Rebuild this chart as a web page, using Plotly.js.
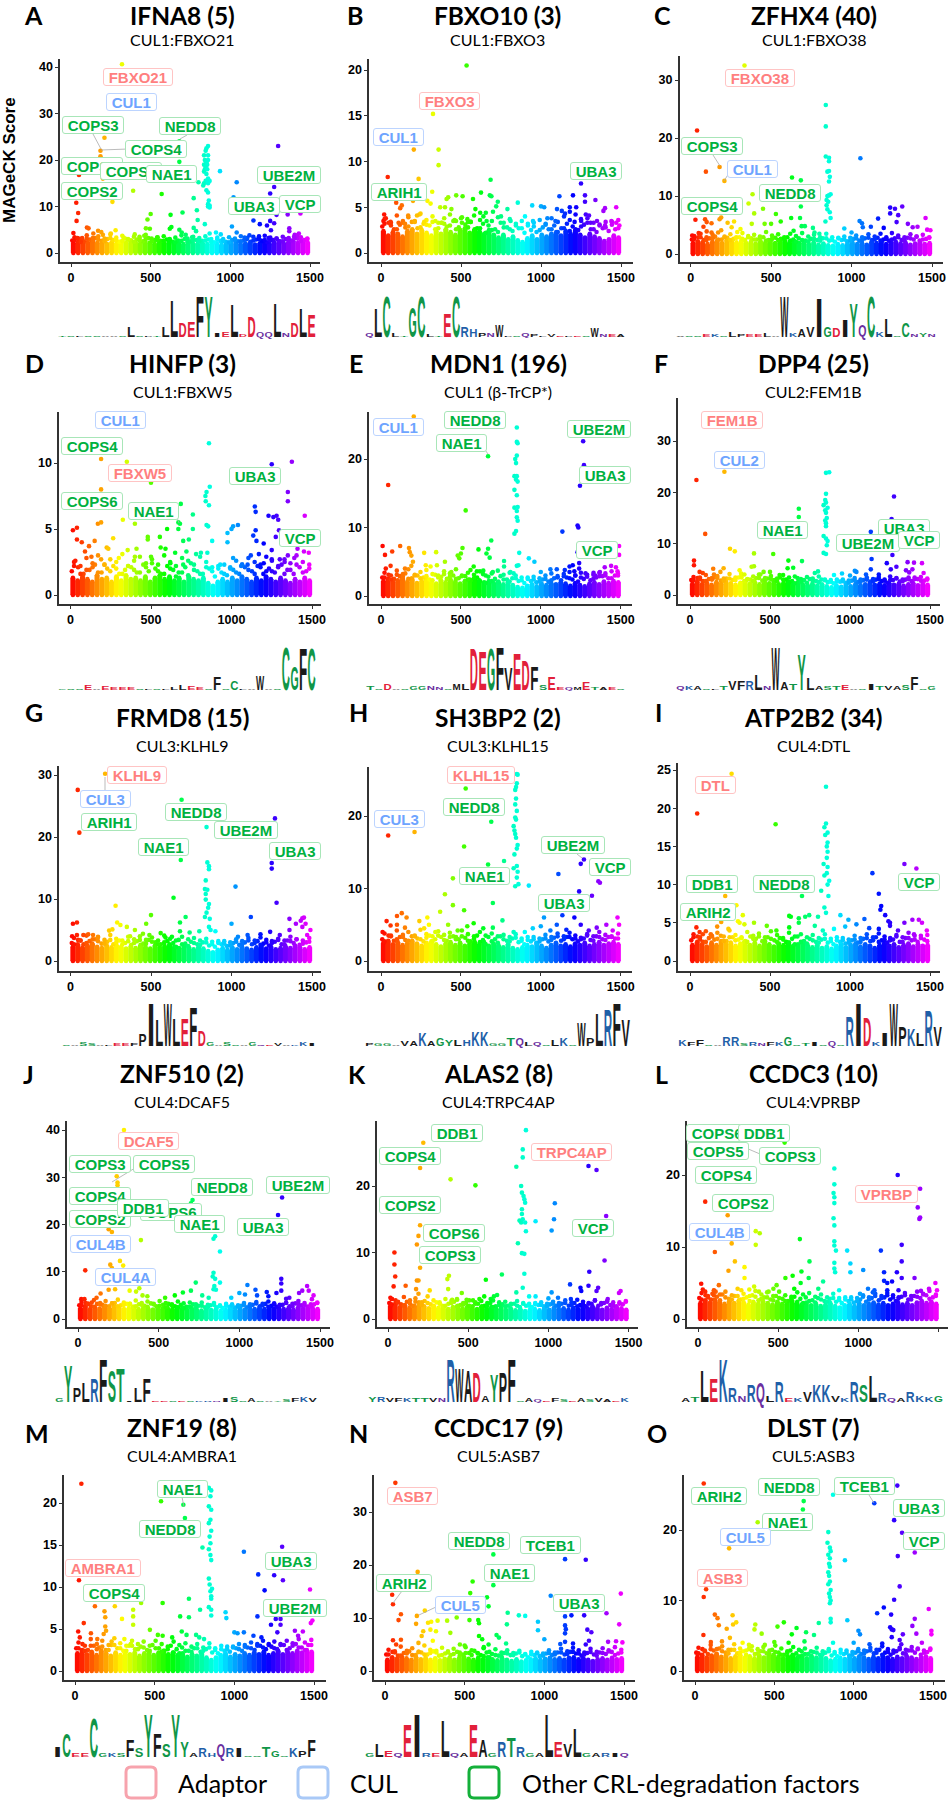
<!DOCTYPE html>
<html><head><meta charset="utf-8">
<script src="https://cdn.plot.ly/plotly-3.0.1.min.js"></script>
<style>html,body{margin:0;padding:0;background:#fff}#chart{width:948px;height:1800px}</style>
</head><body><div id="chart"></div>
<script>
const binX=[15,45,75,105,135,165,195,225,255,285,315,345,375,405,435,465,495,525,555,585,615,645,675,705,735,765,795,825,855,885,915,945,975,1005,1035,1065,1095,1125,1155,1185,1215,1245,1275,1305,1335,1365,1395,1425,1455,1485];
const cloudXa=[8,47,81,118,152,193,228,266,303,339,377,412,452,486,527,561,601,638,672,713,748,788,822,861,897,938,972,1011,1048,1083,1127,1162,1198,1233,1269,1311,1347,1386,1423,1464];
const cloudXb=[22,62,99,137,171,211,247,284,322,358,395,431,469,506,544,582,619,655,693,731,767,805,843,880,918,955,992,1029,1066,1105,1144,1180,1216,1251,1290,1329,1366,1404,1443,1483];

const bandA=[2.2,2.4,2.1,2.3,2.6,2.2,2.5,2.0,2.3,2.1,2.4,2.2,2.7,2.3,2.1,2.5,2.2,2.0,2.3,2.1,2.4,2.0,2.2,1.9,2.3,2.1,2.0,2.2,1.9,2.3,2.1,1.8,2.2,2.0,2.3,1.9,2.1,2.2,1.8,2.1,2.3,2.0,2.2,2.5,2.1,2.4,2.6,2.2,2.5,2.3];
const bandB=[2.4,1.9,2.3,2.1,1.8,2.4,2.6,2.1,2.5,2.2,1.9,2.4,2.1,2.6,2.3,2.0,2.5,2.7,2.2,2.6,2.4,2.1,2.5,2.0,1.7,2.0,1.5,1.8,1.4,1.2,1.6,1.9,1.5,2.0,1.8,2.1,2.3,1.9,2.4,2.1,2.5,2.0,1.7,2.1,1.8,1.6,1.3,1.5,1.9,1.7];
const bandC=[1.9,2.2,2.0,1.7,2.1,2.3,1.9,2.4,2.2,2.0,2.3,1.9,2.1,1.8,2.2,2.0,2.3,1.9,2.1,2.4,2.0,2.2,1.9,2.1,1.7,2.0,1.6,1.8,1.5,1.4,1.7,1.5,1.8,2.0,1.7,1.9,1.6,2.1,1.9,2.2,1.7,2.0,2.1,1.8,2.0,1.6,1.8,2.0,1.7,1.9];
const bandD=[1.3,1.1,1.4,1.2,1.0,1.5,1.2,1.3,1.0,1.4,1.1,1.5,1.2,1.3,1.1,1.4,1.0,1.3,1.5,1.2,1.4,1.1,1.3,1.0,1.4,1.2,1.1,1.3,0.9,0.7,1.0,1.2,1.0,1.3,1.1,1.4,1.2,1.0,1.3,1.1,1.4,1.2,1.0,1.3,1.1,0.9,1.2,1.0,1.3,1.1];
const bandE=[2.2,2.5,2.0,2.3,2.6,2.1,2.4,1.9,2.2,2.5,2.1,1.8,2.3,2.0,2.4,2.1,1.8,2.2,2.4,2.6,2.3,2.0,2.2,1.9,2.1,1.7,2.0,1.6,1.3,1.2,1.5,1.7,1.4,1.8,1.6,1.9,1.7,2.0,1.8,1.5,1.9,1.6,1.4,1.8,2.0,1.7,2.1,1.9,2.2,2.0];
const bandF=[2.2,2.6,2.1,2.4,2.0,2.5,2.2,2.6,2.3,2.0,2.4,2.7,2.2,2.5,2.1,2.6,2.3,2.7,2.1,2.4,2.6,2.2,2.5,2.1,1.9,2.2,1.8,2.1,1.7,1.5,1.9,1.6,2.0,1.7,2.2,1.9,2.1,2.4,2.0,2.2,1.9,2.3,2.0,2.2,1.8,2.1,2.3,1.9,2.2,2.0];
const bandG=[2.3,2.7,2.2,2.5,2.8,2.3,2.1,2.5,2.2,2.6,2.3,2.0,2.4,2.1,2.6,2.3,2.0,2.5,2.2,2.4,2.7,2.3,2.1,2.5,2.2,1.9,2.3,2.0,1.6,1.4,1.8,2.1,1.8,2.2,1.9,2.3,2.0,1.8,2.2,2.4,2.0,2.3,1.9,2.1,2.4,2.1,2.5,2.2,1.9,2.2];
const bandH=[2.5,2.8,2.3,2.6,2.2,2.5,2.8,2.4,2.1,2.5,2.7,2.3,2.0,2.4,2.6,2.2,2.5,2.1,2.4,2.7,2.3,2.6,2.1,2.4,2.2,1.9,2.3,1.8,1.6,1.9,2.2,2.0,2.4,2.1,1.8,2.2,2.5,2.1,2.3,2.0,2.4,2.2,2.5,2.1,2.3,2.6,2.2,2.4,2.6,2.3];
const bandI=[2.1,2.5,2.2,1.9,2.4,2.1,2.6,2.2,2.4,2.0,2.3,2.6,2.1,2.4,2.0,2.5,2.2,1.9,2.3,2.1,2.4,2.0,2.2,2.5,2.1,1.8,2.1,1.7,1.9,1.6,2.0,2.2,1.8,2.1,2.3,1.9,2.2,2.0,1.7,2.1,2.4,2.0,2.2,1.8,2.1,2.3,1.9,2.2,2.0,2.1];
const bandJ=[2.3,2.7,2.1,2.5,2.2,2.6,2.3,2.8,2.4,2.1,2.3,2.6,2.1,2.4,2.2,2.0,2.5,2.2,2.4,2.1,2.5,2.2,2.0,2.3,2.1,1.8,2.2,1.9,2.1,1.7,2.0,2.3,1.9,2.2,2.0,2.3,2.1,2.4,2.1,2.5,2.2,2.4,2.1,2.3,2.0,2.5,2.2,2.6,2.3,2.1];
const bandK=[2.0,2.3,1.8,2.1,1.7,2.0,2.3,1.9,1.6,2.0,1.7,1.9,1.5,1.8,2.0,1.6,1.9,1.7,1.5,1.9,1.6,1.8,1.5,1.7,1.4,1.6,1.3,1.5,1.2,1.4,1.5,1.3,1.6,1.4,1.7,1.5,1.6,1.4,1.7,1.5,1.8,1.6,1.9,1.6,1.4,1.7,1.5,1.8,1.6,1.4];
const bandL=[2.2,2.6,2.3,2.7,2.4,2.1,2.5,2.2,2.6,2.3,2.0,2.4,2.1,2.5,2.2,2.0,2.4,2.1,2.3,2.6,2.2,2.0,2.3,1.9,2.1,1.8,2.0,2.2,1.8,1.6,1.9,2.1,1.8,2.2,1.9,2.1,2.3,2.0,2.2,1.9,2.1,2.4,2.0,2.2,1.9,2.3,2.5,2.2,2.4,2.1];
const bandM=[2.1,2.5,2.0,2.3,1.9,2.4,2.1,1.8,2.2,1.9,2.3,2.0,2.2,1.8,2.1,2.3,1.9,2.2,2.4,2.0,2.2,1.9,2.1,1.7,2.0,1.8,2.1,1.6,1.3,1.6,1.9,2.1,1.7,2.0,1.8,2.1,1.9,2.2,2.0,2.3,1.9,2.1,2.4,2.0,2.3,2.1,2.4,2.2,2.5,2.3];
const bandN=[2.1,2.6,2.3,2.8,2.4,2.1,2.6,2.2,2.5,2.1,2.4,2.0,2.3,2.5,2.1,2.4,2.7,2.3,2.1,2.5,2.2,2.6,2.2,2.0,2.4,2.1,1.9,2.2,1.8,2.0,2.2,2.4,2.1,2.3,2.5,2.2,2.4,2.1,2.5,2.6,2.2,2.4,2.1,1.9,2.2,2.4,2.1,2.5,2.2,2.4];
const bandO=[2.0,2.3,1.9,2.2,2.4,2.0,2.2,1.8,2.1,2.3,1.9,2.1,1.8,2.2,1.9,2.1,2.3,2.0,1.8,2.1,2.3,1.9,2.2,1.8,2.1,1.9,2.2,1.8,1.5,1.7,1.9,1.7,2.0,1.8,2.1,1.9,1.7,2.0,1.8,2.1,1.9,1.7,2.0,1.8,2.1,1.9,1.7,1.9,2.1,1.8];

const nearA=[2.7,3.1,2.5,2.9,3.2,2.6,3.0,2.8,2.4,3.1,2.7,2.9,2.5,3.2,2.8,2.6,2.9,2.4,2.7,3.0,2.5,2.8,2.6,2.9,2.3,2.6,2.4,2.8,2.5,2.7,2.4,2.9,2.6,2.3,2.8,2.5,3.0,2.7,3.1,2.8];
const upperA=[3.4,3.0,3.8,3.2,3.6,3.1,4.0,3.3,3.7,3.0,3.5,3.2,3.9,3.1,3.4,3.6,3.0,3.3,3.8,3.1,3.5,3.2,3.6,3.0,3.3,3.0,3.4,3.1,3.6,3.2,3.5,3.0,3.7,3.3,3.1,3.5,3.2,3.9,3.4,3.1];
const nearB=[2.9,3.3,2.6,3.1,2.8,3.4,2.7,3.2,3.0,2.6,3.3,2.9,3.5,2.8,3.1,3.4,2.7,3.2,3.0,2.6,3.3,2.8,2.4,2.7,2.2,2.5,2.3,2.8,2.6,3.0,2.7,3.2,2.9,2.5,3.1,2.6,2.3,2.7,2.4,2.6];
const upperB=[3.7,3.3,4.1,3.5,3.9,3.4,4.3,3.6,4.0,3.3,3.8,4.2,3.5,3.9,3.4,4.1,3.6,4.4,3.5,3.9,3.3,3.7,3.2,3.5,3.0,3.3,3.6,3.2,3.8,3.4,4.0,3.6,4.2,3.5,3.8,3.3,3.0,3.4,3.1,3.6];
const nearC=[2.5,2.9,2.4,2.7,3.0,2.5,2.8,2.6,2.9,2.4,2.7,2.5,2.9,2.4,2.8,2.6,2.9,2.5,2.7,2.3,2.6,2.4,2.7,2.3,2.1,2.4,2.2,2.6,2.3,2.7,2.4,2.8,2.5,2.3,2.7,2.4,2.8,2.5,2.3,2.6];
const upperC=[3.1,3.5,2.9,3.3,3.7,3.0,3.4,2.9,3.6,3.1,3.3,3.0,3.8,3.2,3.4,2.9,3.5,3.1,3.6,3.0,3.3,2.9,3.5,2.9,2.7,3.0,2.8,3.2,2.9,3.4,3.0,3.5,2.9,3.6,3.2,2.9,3.4,3.0,3.3,2.9];
const nearD=[1.8,2.1,1.6,1.9,2.3,1.7,2.0,2.2,1.6,1.9,2.1,1.7,2.3,1.8,2.0,1.6,2.2,1.9,1.7,2.1,2.4,1.8,1.6,2.0,1.4,1.7,1.5,1.9,1.6,2.1,1.8,2.2,1.6,2.0,1.7,2.3,1.9,1.6,2.1,1.8];
const upperD=[2.5,2.2,2.8,2.4,3.0,2.3,2.7,2.5,3.1,2.2,2.6,2.9,2.4,2.7,2.3,3.0,2.5,2.2,2.8,2.6,2.3,2.9,2.5,2.1,2.0,2.3,2.1,2.6,2.3,2.8,2.5,2.3,2.9,2.6,2.2,2.7,2.4,3.0,2.5,2.3];
const nearE=[2.7,3.1,2.5,2.9,3.3,2.6,3.0,2.7,2.4,3.1,2.8,2.5,3.0,2.6,2.9,2.3,2.7,3.2,2.8,2.5,2.9,2.4,2.6,2.2,1.9,2.2,2.0,2.4,2.1,2.6,2.3,2.7,2.4,2.1,2.5,2.3,2.7,2.9,2.6,3.0];
const upperE=[3.4,3.0,3.7,3.2,3.9,3.1,3.5,3.8,3.2,3.0,3.6,3.3,3.9,3.0,3.4,3.1,3.6,3.0,3.3,3.7,3.1,3.4,3.0,2.7,2.5,2.8,2.6,3.0,3.3,2.9,3.2,3.5,3.0,3.4,2.8,3.1,3.4,3.0,3.6,3.3];
const nearF=[2.9,3.3,2.7,3.1,3.4,2.8,3.2,2.9,3.4,2.7,3.0,3.3,2.8,3.2,2.9,3.4,3.0,2.7,3.3,2.9,3.1,2.7,3.0,2.5,2.3,2.6,2.4,2.8,2.5,2.9,2.6,3.0,2.7,2.4,2.9,2.6,3.0,2.7,3.1,2.8];
const upperF=[3.5,3.1,3.9,3.3,3.7,3.2,4.1,3.4,3.8,3.1,3.6,4.0,3.3,3.7,3.2,3.9,3.4,3.6,3.1,3.5,3.2,3.6,3.0,2.9,2.7,3.0,2.8,3.3,3.0,3.4,3.1,3.5,3.0,3.6,3.2,3.0,3.4,3.1,3.5,3.0];
const nearG=[2.9,3.4,2.7,3.2,3.5,2.8,3.1,2.7,3.3,2.9,2.6,3.2,2.8,3.4,3.0,2.7,3.2,2.9,3.4,2.8,3.1,2.7,3.0,2.5,2.3,2.7,2.4,2.9,2.6,3.0,2.7,3.2,2.8,2.5,3.1,2.7,3.3,2.9,2.6,3.0];
const upperG=[3.7,3.3,4.1,3.5,3.9,3.4,4.2,3.6,3.3,3.9,3.5,4.0,3.4,3.8,3.3,4.1,3.6,3.3,3.9,3.5,3.7,3.3,3.6,3.1,2.9,3.2,3.0,3.5,3.2,3.7,3.3,3.8,3.4,3.2,3.6,3.3,3.9,3.5,3.3,3.7];
const nearH=[3.0,3.5,2.8,3.3,2.9,3.4,3.1,2.7,3.5,3.0,3.3,2.8,3.4,3.0,3.2,2.7,3.5,2.9,3.3,3.0,3.4,2.8,3.1,2.6,2.3,2.7,2.5,3.0,2.7,3.2,2.8,3.3,3.0,2.7,3.1,2.9,3.4,3.0,3.3,3.1];
const upperH=[3.8,3.4,4.2,3.6,4.0,3.5,4.3,3.7,3.4,4.1,3.6,3.9,3.3,4.2,3.7,3.4,4.0,3.5,3.8,3.4,3.6,3.3,3.7,3.1,2.9,3.3,3.1,3.6,3.3,3.8,3.4,3.9,3.5,3.2,3.7,3.4,4.0,3.6,3.3,3.8];
const nearI=[2.7,3.2,2.5,3.0,2.8,3.3,2.6,3.1,2.8,2.5,3.2,2.9,2.6,3.1,2.7,3.0,2.5,2.9,3.2,2.6,2.9,2.5,2.8,2.4,2.2,2.5,2.3,2.7,2.4,2.9,2.6,3.1,2.7,2.4,2.8,2.5,3.0,2.7,2.5,2.8];
const upperI=[3.5,3.1,3.9,3.3,3.7,3.2,4.0,3.4,3.1,3.8,3.3,3.6,3.1,3.9,3.4,3.0,3.7,3.2,3.5,3.1,3.4,3.0,3.5,2.9,2.7,3.0,2.8,3.3,3.0,3.5,3.1,3.6,3.2,3.0,3.4,3.1,3.7,3.3,3.0,3.4];
const nearJ=[2.9,3.4,2.7,3.2,3.0,2.7,3.4,2.9,3.2,2.6,3.1,2.8,3.3,2.7,3.0,3.2,2.7,3.0,2.6,3.1,2.8,2.5,2.9,2.5,2.3,2.6,2.4,2.8,2.5,3.0,2.7,3.2,2.8,2.6,3.0,2.7,3.3,2.9,2.6,3.1];
const upperJ=[3.6,3.2,4.0,3.4,3.8,3.3,4.1,3.5,3.2,3.9,3.4,3.7,3.2,3.8,3.4,3.1,3.7,3.3,3.5,3.1,3.5,3.0,3.4,2.9,2.8,3.1,2.9,3.4,3.1,3.6,3.2,3.7,3.3,3.0,3.5,3.2,3.8,3.4,3.1,3.5];
const nearK=[2.4,2.8,2.2,2.6,2.0,2.5,2.7,2.2,2.5,2.0,2.3,2.6,2.1,2.4,1.9,2.3,2.0,2.4,1.9,2.2,2.0,2.3,1.8,2.0,1.8,2.1,1.9,2.2,2.0,2.3,2.0,2.4,2.1,1.9,2.3,2.0,2.4,2.1,1.9,2.2];
const upperK=[3.0,2.6,3.3,2.8,3.1,2.5,3.4,2.8,2.5,3.0,2.7,2.9,2.4,2.8,2.5,2.7,2.4,2.8,2.5,2.6,2.3,2.7,2.4,2.3,2.2,2.5,2.3,2.6,2.4,2.8,2.5,2.9,2.6,2.3,2.8,2.4,2.7,2.5,2.3,2.6];
const nearL=[2.9,3.3,2.7,3.1,3.4,2.8,3.2,2.7,3.0,3.3,2.6,3.0,2.7,3.2,2.8,2.5,3.1,2.8,3.0,2.6,2.9,2.5,2.8,2.4,2.2,2.5,2.3,2.7,2.4,2.9,2.6,3.0,2.7,2.5,3.1,2.7,3.2,2.9,3.3,3.0];
const upperL=[3.6,3.2,4.0,3.4,3.8,3.3,4.2,3.5,3.2,3.9,3.4,3.7,3.2,3.8,3.3,3.1,3.7,3.4,3.6,3.1,3.4,3.0,3.5,2.9,2.7,3.0,2.9,3.3,3.0,3.5,3.2,3.6,3.3,3.0,3.6,3.2,3.8,3.5,3.9,3.4];
const nearM=[2.7,3.2,2.5,3.0,2.8,2.5,3.1,2.7,2.4,3.0,2.6,2.9,2.5,3.1,2.7,2.4,3.0,2.6,2.8,2.4,2.7,2.3,2.6,2.2,2.1,2.4,2.3,2.7,2.4,2.8,2.5,3.0,2.6,2.9,2.6,3.1,2.7,3.2,2.8,3.1];
const upperM=[3.4,3.0,3.8,3.2,3.6,3.1,3.9,3.3,3.0,3.6,3.2,3.5,3.0,3.6,3.2,2.9,3.5,3.1,3.3,2.9,3.2,2.8,3.3,2.7,2.6,2.9,2.8,3.2,2.9,3.4,3.0,3.6,3.2,3.5,3.1,3.6,3.3,3.8,3.4,3.7];
const nearN=[3.1,3.6,2.9,3.4,3.7,3.0,3.5,3.1,3.7,2.9,3.3,3.0,3.6,3.1,3.4,3.8,3.0,3.5,3.2,2.9,3.4,3.0,3.3,2.8,2.6,3.0,2.8,3.3,3.0,3.5,3.1,3.6,3.3,2.9,3.4,3.1,3.5,3.2,3.6,3.3];
const upperN=[4.0,3.5,4.6,3.8,4.3,3.6,4.8,4.0,3.5,4.4,3.7,4.2,3.5,4.5,3.9,3.4,4.3,3.6,4.1,3.5,3.9,3.4,3.8,3.2,3.1,3.5,3.3,3.9,3.5,4.2,3.7,4.4,3.9,3.5,4.2,3.6,4.3,3.9,4.5,4.0];
const nearO=[2.6,3.1,2.4,2.9,3.2,2.6,3.0,2.5,2.8,3.1,2.4,2.8,2.5,3.0,2.6,2.3,2.9,2.5,2.8,2.4,2.7,2.3,2.6,2.2,2.1,2.4,2.2,2.6,2.4,2.8,2.5,3.0,2.6,2.3,2.8,2.5,2.9,2.6,2.3,2.7];
const upperO=[3.3,2.9,3.7,3.1,3.5,3.0,3.8,3.2,2.9,3.5,3.1,3.4,2.9,3.6,3.2,2.8,3.4,3.0,3.2,2.8,3.3,2.8,3.1,2.7,2.6,2.9,2.7,3.1,2.9,3.3,3.0,3.5,3.1,2.9,3.3,3.0,3.4,3.1,2.9,3.2];

const ptsA=[[320,40.6],[210,24.8],[185,22],[185,20.8],[185,19.5],[680,19.6],[680,24],[569,12.7],[390,13.4],[260,11],[33,10.8],[45,8.6],[35,6.9],[500,8.4],[480,7.2],[625,8.2],[700,8.7],[770,11.8],[790,9.2],[795,7.1],[840,6.2],[770,5.4],[785,4.7],[630,5.6],[620,5.2],[680,5],[695,4.4],[470,5.3],[495,5.2],[460,3.7],[200,3.9],[100,5.5],[110,5.3],[170,4.8],[190,4.5],[140,4.2],[280,4.9],[250,4.2],[15,4.3],[40,3.2],[70,3.2],[200,16],[50,16.8],[860,23],[850,22.5],[845,22],[835,21],[860,21],[860,20],[840,20],[850,19.5],[835,19],[855,19],[845,18.5],[840,18],[855,18],[835,17.5],[850,17],[860,16],[845,15.5],[870,15.5],[855,15.5],[835,15],[860,15],[830,14.5],[850,13.5],[860,13],[865,11.3],[860,10],[870,10.2],[860,10.5],[870,9.8],[800,15.2],[935,17.6],[1040,15.2],[1020,12],[1010,5.7],[1040,4.4],[1300,23],[1275,14.2],[1250,12.8],[1270,11],[1290,8.2],[1145,7],[1185,6.2],[1230,5.9],[1250,6.9],[1275,6.4],[1255,4.9],[1360,8.3],[1440,8.5],[1370,5.3],[1370,4.7],[1240,3.2],[1430,4.2],[1420,3.8],[1400,3.5],[1090,3.3],[1120,3.8],[870,4.2],[910,4.4],[940,4],[1180,3.6],[330,3.3],[400,4],[430,3.5],[540,3.3],[720,3.9],[760,3.4]];
const ptsB=[[535,20.5],[325,15.2],[360,11.3],[205,11.3],[360,9.6],[42,8.3],[235,8.1],[685,8],[320,6.7],[1250,7.6],[1115,6.2],[1200,6.3],[1275,6.3],[1275,5.6],[1340,5.8],[1470,5],[1400,4.9],[1390,4.6],[945,5.2],[1000,5.1],[1020,5],[1100,4.8],[1130,4.6],[1180,5],[1220,5],[1280,4.2],[1300,4.1],[1350,3.5],[855,5.5],[790,4.8],[730,5.6],[720,5.1],[690,6.2],[680,6.3],[625,6.6],[575,5.9],[510,6.2],[470,6.3],[420,6.1],[410,5.9],[400,5],[440,4.8],[370,5],[310,5.4],[95,5.5],[130,5.2],[120,4.9],[170,4.1],[240,4.2],[225,4.1],[20,4.2],[200,5.7],[290,5.7],[500,3.8],[590,4.8],[620,4.4],[640,4],[700,4.5],[750,4],[810,3.5],[900,4],[950,3.5],[1040,3.8],[1150,4.3],[1250,3.7],[1440,3.5],[1470,3.3],[1180,4.5],[15,3.5],[30,3.8],[60,3.4],[110,3.3],[150,3.2],[270,3.4],[340,3.5],[380,3.3],[460,3.6],[540,3.7],[560,3.4],[660,3.5],[1090,3.5],[1210,3.4],[1310,3.3],[1400,3],[1490,3]];
const ptsC=[[335,32.5],[840,25.7],[840,22],[40,21.3],[840,16.8],[860,16.6],[860,16],[1055,16.5],[180,15],[95,14.2],[210,12.6],[630,13.2],[685,12.7],[850,14.2],[860,14.3],[865,13.3],[860,12.5],[385,10.3],[360,8.7],[395,7],[450,7.8],[530,6.9],[685,8.2],[850,10],[870,10.3],[860,10.1],[845,9.3],[855,9],[845,8.4],[850,7.7],[865,7.2],[870,6.2],[838,5.6],[30,5.9],[90,6],[100,5.5],[190,6.3],[180,6],[230,5.4],[270,5.6],[130,5.3],[80,4.7],[50,3.6],[100,3.9],[130,3.7],[190,4.1],[255,4.6],[310,4.3],[290,3.8],[380,5.2],[460,5.2],[500,5.2],[560,5.6],[625,6.2],[640,4],[680,6.2],[690,4.8],[710,4.8],[760,4.5],[770,3.7],[800,3.5],[955,4.4],[1000,3.7],[1050,5.7],[1065,5.3],[1070,4.6],[1120,4.7],[1165,6.1],[1200,4.5],[1240,8],[1270,7.8],[1315,8.2],[1240,7],[1290,6.7],[1280,5.5],[1350,5.2],[1380,4.6],[1410,4.7],[1460,6.2],[1470,4.2],[1490,4.1],[10,3.2]];
const ptsD=[[190,10.3],[350,10.1],[1250,9.9],[1375,10.1],[860,11.5],[190,8],[500,8.5],[865,8.2],[845,7.8],[838,7.5],[840,7.1],[860,6.8],[1350,7.8],[1350,7.1],[685,6.9],[170,5.4],[190,5.5],[325,5.7],[400,5.4],[1145,6.7],[1150,6.3],[1230,6],[1280,6],[1260,5.9],[1290,5.7],[1455,6],[760,6.1],[670,5.5],[680,5.4],[40,5.1],[15,4.9],[600,5],[670,5],[760,5],[1295,4.9],[845,5.3],[855,5.2],[1040,5.3],[1010,5.2],[1000,5],[975,4.7],[1150,4.9],[1135,4.5],[1155,4.1],[480,4.4],[480,4.2],[555,4.4],[265,4.3],[735,4.2],[700,4.1],[880,4.1],[975,4],[1275,4.4],[1200,3.9],[150,4.1],[40,4.2],[70,4],[115,3.7],[90,3.3],[225,3.6],[235,3.5],[355,3.4],[410,3.5],[560,3.6],[590,3.5],[650,3.2],[720,3.3],[780,3.1],[810,3.2],[850,3.2],[1010,2.8],[1120,3],[1170,3.1],[1250,3.4],[1300,2.7],[1350,3],[1410,3.5],[1450,3.3],[1480,3.2],[30,2.6],[130,2.9],[190,2.7],[300,2.8],[400,2.9],[500,2.9],[620,2.4],[700,2.3],[930,2.3],[1060,2.2],[1100,2.3],[1200,2.4],[1250,2.7],[1330,2.5],[1390,2.8]];
const ptsE=[[205,26.2],[1265,22.6],[850,24.6],[45,16.2],[670,20.4],[1270,19.1],[1245,16.1],[850,22.5],[855,22.3],[850,20.5],[840,20],[845,19.4],[835,17.5],[850,17.5],[845,17],[855,16.7],[835,15.5],[850,14.7],[835,12.9],[855,13],[850,12.4],[850,11.5],[855,11],[845,9.5],[835,9.1],[530,12.5],[1135,9.4],[1230,10.3],[1235,10],[1230,6.4],[10,7.3],[70,6.5],[175,7],[120,7.3],[25,6],[180,6.4],[190,5.9],[270,6.3],[345,6.4],[510,7],[500,6.2],[480,5.9],[490,5.5],[610,6.8],[670,6.9],[690,8.1],[660,6.2],[680,5.6],[770,5.1],[770,4.3],[865,6.3],[925,5.5],[960,5],[860,4.5],[850,4.4],[1200,4.5],[1180,4.3],[1240,4.8],[1490,6],[1490,7.3],[1240,4],[1210,3.6],[1150,3.8],[1100,3.9],[1060,3.9],[1400,4.2],[1440,4.4],[1470,4.2],[1480,3.6],[1330,3.4],[1340,3],[1370,3.5],[400,5],[350,4.5],[310,4.3],[280,4.5],[200,5],[150,4],[60,4.4],[30,4],[190,4.4],[560,3.8],[580,4.3],[600,3.6],[700,3.5],[810,3.5],[830,3.3],[640,3.7],[440,3.5],[1000,3.5],[1280,3.3]];
const ptsF=[[40,22.4],[215,24],[850,23.8],[870,23.9],[95,11.9],[1275,19.2],[850,19.7],[845,18.5],[850,18],[835,17.5],[860,17],[845,16.5],[850,16],[855,15],[845,14.5],[850,14],[850,13.4],[835,11.5],[850,11],[860,10.5],[855,9.7],[835,8.2],[850,8],[680,16.8],[680,15.2],[1260,14.8],[1130,12.3],[1265,7.8],[1135,7],[1130,5],[1230,6.2],[1255,5],[1290,5.5],[1360,6.4],[1400,6.3],[1450,6.2],[1390,5],[1350,4.8],[1370,4.4],[1460,4.3],[25,6.7],[25,5.8],[80,4.3],[60,4.5],[145,5.1],[210,5.2],[250,9],[280,8.5],[400,8.1],[520,8],[615,6.7],[700,6.6],[400,5.6],[385,5.5],[310,4.8],[320,4.2],[610,5.2],[645,5.3],[500,4.5],[460,4.5],[780,4.3],[800,4.6],[950,4.2],[1030,4.7],[1040,4.5],[1100,4],[1180,4],[900,3.9],[150,4],[190,4.5],[340,4],[440,4],[560,3.9],[1000,3.8]];
const ptsG=[[215,30.2],[45,27.6],[55,20.7],[690,26],[845,21.6],[1270,23],[685,16.3],[1250,15.8],[1250,14.9],[850,15.9],[860,15.3],[860,14.8],[840,13],[835,11.6],[850,11.5],[840,10.8],[840,9.9],[860,9.2],[855,8.6],[845,7.8],[835,7.1],[865,6.8],[1025,12],[280,8.9],[640,10.2],[1280,9.4],[1120,7.1],[500,7.4],[715,7.1],[1360,6.8],[1440,6.9],[1450,7],[1430,6.5],[1460,6],[15,6],[40,6.2],[10,4],[40,4.2],[80,4.2],[110,4.3],[140,4.2],[170,3.8],[240,4.9],[260,5.1],[290,6.2],[310,5.8],[350,5.5],[370,4],[400,5],[470,6],[450,4.4],[490,4.2],[560,4.5],[590,3.8],[680,6.2],[680,4.8],[630,3.9],[740,4.6],[800,4.8],[860,5.5],[870,5],[900,4.8],[1000,6],[1040,3.9],[1100,4.2],[1180,4.3],[1240,4.7],[1300,4.2],[1360,5],[1400,6],[1440,5.5],[1470,4.2],[1490,5]];
const ptsH=[[850,25.8],[855,25.7],[530,23.8],[850,24.5],[845,24],[840,23.6],[845,22.4],[840,21.6],[850,20.7],[840,19.8],[845,19.5],[690,19.2],[830,18.6],[835,18],[840,17.5],[845,17],[855,16],[850,15.5],[835,14.7],[520,15.8],[45,17.3],[210,17.8],[670,13.3],[770,13.8],[850,13.1],[830,12.8],[855,12.3],[850,11.5],[450,11.4],[840,10.3],[860,10.6],[925,10.4],[1110,12],[1250,13.4],[1270,14],[1360,11],[1370,10.8],[1240,9.6],[1320,9],[400,9.2],[450,7.7],[700,8],[370,6.8],[520,7],[130,6.6],[100,6.2],[160,6],[290,6],[1020,6],[1135,6.3],[1210,6],[1480,6],[35,5.5],[10,4],[60,4.9],[100,5],[150,4.6],[240,5.5],[270,4.5],[300,5],[340,4],[420,5],[480,4.2],[540,4.8],[580,5.2],[640,4.5],[700,4.6],[760,5.6],[830,4],[900,4],[950,4.5],[1000,4.8],[1060,4.2],[1100,5],[1160,4.3],[1250,5],[1300,4.2],[1350,4.6],[1410,5],[1450,4.2],[1490,5]];
const ptsI=[[260,24.5],[850,22.8],[45,19.3],[535,17.9],[850,18],[840,17.5],[860,16.8],[845,16.5],[860,15.5],[855,15],[860,14.3],[855,13.5],[835,12.7],[860,12.3],[855,11.5],[840,11.2],[870,10.5],[860,10],[820,9.2],[865,8.5],[1340,12.7],[1415,12.1],[1140,11.5],[1180,8.8],[1195,7.2],[1190,6.7],[1220,6],[1240,5.2],[1250,5],[220,8.5],[700,8.5],[290,7.3],[330,6],[300,5.2],[620,5.9],[630,5.8],[680,5.6],[720,5.8],[745,6],[800,5.8],[840,7],[850,6.3],[940,6],[990,5.4],[1090,5.5],[1430,5.4],[1390,5.4],[1450,5],[40,4.4],[60,3.8],[80,3.5],[130,3.5],[170,4.5],[195,5.1],[240,4.2],[310,5],[340,4.8],[400,5],[480,4.6],[540,4],[620,4.4],[680,5],[780,4.6],[830,4],[900,4.2],[970,4.5],[1040,4.8],[1120,4.3],[1180,4.2],[1250,4.6],[1300,4],[1340,5],[1400,3.5],[1480,4]];
const ptsJ=[[285,40],[240,30.2],[245,28.9],[245,28.3],[710,25.2],[700,24.5],[1265,25.7],[1240,22],[190,19],[210,18.4],[390,16.7],[840,17],[850,17.5],[880,14.3],[260,12.3],[200,11.5],[280,11.3],[210,10.8],[45,10.3],[840,9.8],[835,9],[850,8.5],[880,7.7],[845,7],[730,7.7],[840,6.3],[855,6.2],[1260,8.5],[1260,7.5],[1050,7.2],[1000,5.5],[1035,5.2],[1100,6.2],[1170,5.7],[1230,5.5],[1260,6],[1310,4.5],[1390,6],[1420,7],[1430,6],[1370,5.5],[1460,5],[380,6.5],[360,5.8],[320,6],[190,6.2],[230,6.3],[140,5.4],[115,4.5],[20,4.2],[40,4.2],[85,3.5],[400,5],[430,4.8],[540,4.5],[600,5],[650,5.6],[700,6],[770,5],[810,4.5],[950,4.5],[1110,5],[1180,4.8],[1290,4.3],[1450,4.2]];
const ptsK=[[860,28.4],[840,25.5],[220,26.5],[840,24.3],[1250,23],[800,22.9],[1300,22.4],[200,22.7],[390,21],[545,20.1],[830,20],[835,19],[845,18.5],[850,18],[855,17.5],[1040,17.4],[835,16.5],[1360,15.5],[835,15.8],[830,14.5],[820,14.8],[840,15],[855,14.5],[920,14.7],[1035,15],[1020,13.3],[860,13.2],[200,14.1],[190,12.5],[40,10],[40,8.2],[45,6.4],[35,4.9],[110,5],[15,3.2],[25,3],[180,11.2],[200,7.7],[190,5.8],[180,5.8],[175,4.5],[190,3.8],[380,6.5],[370,6],[375,4.5],[260,4.3],[460,3.9],[610,5.9],[710,6.7],[800,4],[840,4.7],[810,11.4],[835,9.9],[850,9.8],[850,6.8],[1020,4],[1135,5.2],[1200,4.7],[1205,4.2],[1250,5],[1255,7.1],[1310,4.7],[1300,4.2],[1350,8.8],[1440,3.9],[1450,4.2],[1370,3],[1140,3],[1060,3.2],[1000,3.1],[920,3.4],[880,3.4],[680,3.6],[660,3.4],[640,3],[570,3],[600,3.4],[400,2.9],[430,3],[490,2.9],[530,2.8]];
const ptsL=[[540,24.5],[850,20.9],[1245,20],[850,18.7],[1385,18.1],[845,17.5],[850,16.9],[850,16.1],[45,16.3],[185,14.4],[845,14],[1370,15.5],[1385,14.1],[1380,13.9],[850,13],[360,12.2],[385,11.9],[360,10.3],[635,11.1],[850,10.8],[850,10.2],[860,9.5],[930,9.5],[1140,9.5],[1270,10.3],[1270,8],[105,9.3],[210,10.5],[230,8],[290,7.2],[190,6.7],[290,5.7],[695,8],[645,6.6],[590,6],[545,5.7],[640,5],[690,5.7],[780,5.2],[850,7.8],[850,7],[855,6.5],[950,7.7],[950,6.5],[1030,6.8],[1160,6.5],[1240,6.5],[1270,5.7],[1350,5.7],[1160,5.3],[1180,5],[1210,5.2],[1480,5],[1100,4],[1090,3.7],[1060,4.2],[20,4.9],[30,4.1],[45,3.8],[130,4.7],[110,3.8],[90,3.5],[100,3.9],[270,4],[320,4.1],[350,4.5],[490,4.7],[470,4.2],[380,3.8],[440,3.8],[600,4.2],[750,4.2],[880,4],[1010,3.5],[1180,4],[1250,4],[1390,3.9],[1440,4.2],[1490,4]];
const ptsM=[[40,22.3],[840,21.8],[855,21.5],[850,20.8],[540,20.2],[680,19.8],[840,19.6],[855,19.2],[690,18.2],[850,18],[840,17.6],[855,16.7],[845,16],[850,15.2],[800,14.7],[840,14.5],[1300,14.8],[1060,14.2],[850,13.8],[855,13.2],[1150,11.5],[1250,11.4],[1305,10.8],[840,11],[845,10.3],[850,9.5],[860,9.8],[855,8.9],[25,10.8],[1190,9.6],[1475,9.7],[550,8.1],[715,8.6],[855,8.6],[840,7.6],[855,7.3],[785,7.3],[855,6.6],[945,7],[950,6.3],[660,6.5],[715,6.4],[1145,6.5],[1260,6.2],[1290,6.2],[1230,5.5],[1290,5.5],[125,7.7],[250,7.7],[185,7.1],[190,6.4],[295,6.2],[365,7.3],[365,6.5],[365,5.5],[415,8.1],[190,5.3],[55,5.7],[195,4.8],[670,4.7],[700,4.3],[470,4.9],[520,4.3],[550,4.2],[610,4],[760,4.3],[780,4],[810,3.8],[1000,4.6],[1020,4.5],[1060,4.6],[1120,4.2],[1170,4],[1270,4.6],[1380,4.8],[1430,4.7],[1400,4.2],[1480,5.7],[1490,6],[20,4.7],[30,4],[100,4.5],[180,4.4],[140,3.8],[230,3.5],[310,3.8],[350,3.2]];
const ptsN=[[65,35.5],[205,18.7],[680,22],[1130,21.1],[1260,21],[550,16.9],[45,14.4],[1480,14.6],[50,12.6],[1040,14.2],[535,14.7],[640,13.9],[650,12.2],[680,16.2],[250,11.4],[200,10.4],[100,10.7],[85,9.6],[1130,10.3],[1170,10.5],[1250,10.5],[1390,10.9],[1470,8.8],[770,11],[840,10.5],[880,10.4],[585,9.6],[590,9],[450,10.1],[530,9.6],[290,9.3],[270,9.1],[330,9.5],[390,9.5],[195,8.9],[765,8.8],[960,9.3],[960,7.7],[1130,8.6],[1135,7.9],[1130,7.1],[1270,7.8],[1295,7.3],[285,7.8],[240,7.5],[320,7.5],[230,6.6],[410,7.2],[590,6.6],[610,6],[700,6.8],[715,6.3],[760,5.2],[1000,6],[1100,5.1],[1130,5.5],[1180,5.2],[1260,5],[1280,5.7],[1400,5.5],[1450,5.6],[1490,5.4],[50,5.8],[70,5],[100,5.9],[210,5.3],[300,5.7],[500,4.8],[470,5],[620,4.5],[650,5]];
const ptsO=[[55,26.6],[1275,26.3],[685,24.1],[680,22.9],[1130,23.8],[870,25],[1255,21.4],[1305,19.6],[395,21.1],[840,19.7],[215,17.4],[1385,16.8],[1278,16.3],[945,15.7],[835,18.2],[850,17.5],[855,17],[840,16.5],[850,16],[845,15.2],[850,14.8],[840,14],[845,13.5],[850,12.7],[840,12.3],[855,11.5],[845,11],[850,10.5],[855,10],[850,9.6],[1290,12],[1255,10.1],[1190,9],[1148,8.2],[1236,8],[1473,8.8],[1385,7.4],[142,7.5],[125,8],[237,7.9],[55,10.5],[70,11.6],[53,5.1],[150,6.5],[200,6],[240,6.6],[260,6.9],[380,6.6],[375,5.9],[420,5.3],[520,6.3],[560,6.9],[640,6.1],[610,5.2],[700,5.5],[780,6.8],[750,5.1],[855,7.4],[855,6.9],[960,7.2],[1030,5.7],[1040,5.2],[1230,6.2],[1240,5.9],[1250,5.8],[1310,5.2],[1240,4.8],[1370,6.4],[1395,5.3],[1490,5.7],[1490,5.2],[1430,4],[100,4.1],[170,4.2],[220,4.7],[300,4],[340,3.7],[440,3.7],[500,4.1],[590,4],[690,4.2],[870,4],[1000,4],[1100,3.8],[1180,3.9],[1290,4.4],[1300,3.8]];

const labelsA=[["FBXO21","a",138,77],["CUL1","c",131,102],["COPS3","g",93,125],["NEDD8","g",190,126],["COPS4","g",156,149],["COPS5","g",92,166],["COPS6","g",131,171],["NAE1","g",171,174],["UBE2M","g",289,175],["COPS2","g",92,191],["UBA3","g",254,206],["VCP","g",300,204]];
const labelsB=[["FBXO3","a",449,101],["CUL1","c",398,137],["UBA3","g",596,171],["ARIH1","g",399,192]];
const labelsC=[["FBXO38","a",760,78],["COPS3","g",712,146],["CUL1","c",752,169],["NEDD8","g",790,193],["COPS4","g",712,206]];
const labelsD=[["CUL1","c",120,420],["COPS4","g",92,446],["FBXW5","a",140,473],["UBA3","g",255,476],["COPS6","g",92,501],["NAE1","g",153,511],["VCP","g",300,538]];
const labelsE=[["NEDD8","g",475,420],["CUL1","c",398,427],["UBE2M","g",599,429],["NAE1","g",461,443],["UBA3","g",605,475],["VCP","g",597,550]];
const labelsF=[["FEM1B","a",732,420],["CUL2","c",739,460],["NAE1","g",782,530],["UBA3","g",904,528],["UBE2M","g",868,543],["VCP","g",919,540]];
const labelsG=[["KLHL9","a",137,775],["CUL3","c",105,799],["NEDD8","g",196,812],["ARIH1","g",109,822],["UBE2M","g",246,830],["NAE1","g",163,847],["UBA3","g",295,851]];
const labelsH=[["KLHL15","a",481,775],["NEDD8","g",474,807],["CUL3","c",399,819],["UBE2M","g",573,845],["VCP","g",610,867],["NAE1","g",484,876],["UBA3","g",564,903]];
const labelsI=[["DTL","a",715,785],["DDB1","g",712,884],["NEDD8","g",784,884],["VCP","g",919,882],["ARIH2","g",708,912]];
const labelsJ=[["DCAF5","a",148,1141],["COPS3","g",100,1164],["COPS5","g",164,1164],["NEDD8","g",222,1187],["UBE2M","g",298,1185],["COPS4","g",100,1196],["COPS6","g",171,1212],["COPS2","g",100,1219],["DDB1","g",143,1208],["NAE1","g",199,1224],["UBA3","g",263,1227],["CUL4B","c",100,1244],["CUL4A","c",125,1277]];
const labelsK=[["DDB1","g",457,1133],["TRPC4AP","a",571,1152],["COPS4","g",410,1156],["COPS2","g",410,1205],["COPS6","g",454,1233],["VCP","g",593,1228],["COPS3","g",450,1255]];
const labelsL=[["COPS6","g",717,1133],["DDB1","g",764,1133],["COPS5","g",718,1151],["COPS3","g",790,1156],["COPS4","g",726,1175],["VPRBP","a",886,1194],["COPS2","g",743,1203],["CUL4B","c",719,1232]];
const labelsM=[["NAE1","g",182,1489],["NEDD8","g",170,1529],["AMBRA1","a",103,1568],["UBA3","g",291,1561],["COPS4","g",114,1593],["UBE2M","g",295,1608]];
const labelsN=[["ASB7","a",412,1496],["NEDD8","g",479,1541],["TCEB1","g",550,1545],["NAE1","g",509,1573],["ARIH2","g",404,1583],["CUL5","c",460,1605],["UBA3","g",579,1603]];
const labelsO=[["ARIH2","g",719,1496],["NEDD8","g",789,1487],["TCEB1","g",864,1486],["UBA3","g",919,1508],["NAE1","g",787,1522],["CUL5","c",745,1537],["VCP","g",924,1541],["ASB3","a",722,1578]];

const connectors=[[93,134,101,149],[101,150,128,149],[180,139,187,135],[713,155,720,166],[724,181,729,173],[176,515,179,523],[483,447,488,454],[105,777,105,790],[577,854,582,858],[112,1182,135,1168],[746,1148,760,1154],[182,1497,184,1507],[393,1603,402,1591],[419,1615,436,1607],[869,1495,874,1503]];

const logoLettersA="TSLSSAASLSPTLLDEFYIELDDQQLNDLE";
const logoHeightsA=[3,3,3,3,3,3,3,3,26,4,4,4,26,90,36,38,100,100,10,12,80,6,50,12,12,85,10,35,70,55];
const logoLettersB="QLCLTGCLTECRHPNWPSQPLVEPESWNEA";
const logoHeightsB=[10,70,100,10,3,75,98,5,3,58,100,25,18,10,10,28,4,4,8,6,4,6,4,4,4,4,22,6,6,5];
const logoLettersC="VSSEKSLPEELAWKAVIGDIYQCKLSCNYN";
const logoHeightsC=[4,4,4,5,5,4,14,6,6,6,8,3,100,8,18,25,95,25,22,42,85,30,100,12,45,3,35,6,10,6];
const logoLettersD="GSSEAEEEESLSLLLEESFSCLAWASCGFC";
const logoHeightsD=[3,3,3,12,4,8,6,6,6,4,4,4,4,5,12,8,6,4,30,4,22,4,4,34,4,4,100,55,95,95];
const logoLettersE="TSDASGGNNSMLDEGFVEDFSEEQMETAES";
const logoHeightsE=[10,3,15,3,3,10,8,8,6,4,15,15,95,90,95,100,50,85,70,55,12,30,6,5,5,18,6,6,5,4];
const logoLettersF="QKASLTVFRLNWATYLASTEASITVASFSG";
const logoHeightsF=[8,10,8,3,3,10,20,20,20,36,10,100,18,15,80,28,10,10,10,12,3,3,15,10,8,8,12,30,3,8];
const logoLettersG="SASSALEEFPILWLEFDGASSAGQEVAKKI";
const logoHeightsG=[4,3,8,5,3,4,6,6,6,28,100,60,100,62,62,90,35,10,4,10,4,3,8,4,4,6,3,4,10,6];
const logoLettersH="PGGAVAKAGYLHKKGGTQLQSLKSWPLRFV";
const logoHeightsH=[7,7,7,3,12,12,30,12,18,15,15,15,32,32,7,7,18,18,10,10,3,15,18,3,55,18,75,85,100,60];
const logoLettersI="KFFSARRSRNFKGSTISQSRIDKIWPKLRV";
const logoHeightsI=[15,10,15,3,3,20,20,5,10,6,8,8,20,3,6,8,3,12,3,70,100,65,10,30,100,45,40,30,80,45];
const logoLettersJ="GYPLRFSTILFEESESKRNISSASAYSFKV";
const logoHeightsJ=[10,85,35,45,55,100,75,80,3,35,55,3,3,3,3,3,3,3,3,10,12,3,10,3,3,3,6,8,12,8];
const logoLettersK="YRVFKTTVNRWADAYPFSAQEFSEASVAEK";
const logoHeightsK=[13,13,8,8,8,8,8,10,10,100,80,75,70,15,65,70,100,4,10,6,4,10,6,4,8,6,8,6,4,10];
const logoLettersL="ATLEKRNRQLREKVKKVKRSLRQARKKG";
const logoHeightsL=[10,12,75,55,100,35,15,40,45,15,50,10,10,25,40,40,15,10,50,40,60,20,10,10,25,15,12,15];
const logoLettersM="ICEECGKSFSYFSYYARHQRISSTGSKPF";
const logoHeightsM=[25,55,10,10,90,10,10,10,40,20,100,55,30,100,35,10,20,10,30,20,20,3,3,25,15,4,20,15,40];
const logoLettersN="GLEQEIRELQAEAGRTRGALEVLGARIQ";
const logoHeightsN=[8,30,15,8,75,100,10,10,85,10,10,75,40,10,35,45,25,10,10,100,35,30,65,10,8,8,8,8];

const boxA=[60,320,59,262,71,310,253,40,67];
const boxB=[369,633,59,262,381,621,253,20,70];
const boxC=[679.5,943,56,262,690.6,932,254,30,80];
const boxD=[59,321,412,604,70.5,312,595,10,463];
const boxE=[369,632,412,604,381,620.7,596,20,459];
const boxF=[678,940,398,604,690,930,595,30,441];
const boxG=[59,321,766,971,70.5,312,961,30,775];
const boxH=[369,632,767,971,381,620.7,961,20,816];
const boxI=[678,940,763,971,690,930,961,25,770];
const boxJ=[67,330,1121,1327,78,320,1319,40,1130];
const boxK=[377,638,1121,1327,388,628.6,1319,20,1186];
const boxL=[687,948,1121,1327,698,938.6,1319,20,1175];
const boxM=[64,326,1475,1680,75,314,1671,20,1503];
const boxN=[374,635,1475,1680,385,624,1671,30,1512];
const boxO=[684,945,1475,1680,695,933,1671,20,1530];

const panels=[
 {id:"A",lx:33,ly:15,tx:182,ty:15.5,sy:39,title:"IFNA8 (5)",sub:"CUL1:FBXO21",pts:ptsA,band:bandA,near:nearA,upper:upperA,labels:labelsA,box:boxA,yt:[0,10,20,30,40],ll:logoLettersA,lh:logoHeightsA,lb:[58,316,332,290]},
 {id:"B",lx:355,ly:15,tx:497,ty:15.5,sy:39,title:"FBXO10 (3)",sub:"CUL1:FBXO3",pts:ptsB,band:bandB,near:nearB,upper:upperB,labels:labelsB,box:boxB,yt:[0,5,10,15,20],ll:logoLettersB,lh:logoHeightsB,lb:[365,625,332,290]},
 {id:"C",lx:662,ly:15,tx:814,ty:15.5,sy:39,title:"ZFHX4 (40)",sub:"CUL1:FBXO38",pts:ptsC,band:bandC,near:nearC,upper:upperC,labels:labelsC,box:boxC,yt:[0,10,20,30],ll:logoLettersC,lh:logoHeightsC,lb:[676,936,332,290]},
 {id:"D",lx:34,ly:363,tx:182,ty:363,sy:392,title:"HINFP (3)",sub:"CUL1:FBXW5",pts:ptsD,band:bandD,near:nearD,upper:upperD,labels:labelsD,box:boxD,yt:[0,5,10],ll:logoLettersD,lh:logoHeightsD,lb:[58,316,685,640]},
 {id:"E",lx:356,ly:363,tx:498,ty:363,sy:392,title:"MDN1 (196)",sub:"CUL1 (β-TrCP*)",pts:ptsE,band:bandE,near:nearE,upper:upperE,labels:labelsE,box:boxE,yt:[0,10,20],ll:logoLettersE,lh:logoHeightsE,lb:[366,625,685,640]},
 {id:"F",lx:661,ly:363,tx:813,ty:363,sy:392,title:"DPP4 (25)",sub:"CUL2:FEM1B",pts:ptsF,band:bandF,near:nearF,upper:upperF,labels:labelsF,box:boxF,yt:[0,10,20,30],ll:logoLettersF,lh:logoHeightsF,lb:[676,936,685,640]},
 {id:"G",lx:34,ly:712,tx:182,ty:718,sy:746,title:"FRMD8 (15)",sub:"CUL3:KLHL9",pts:ptsG,band:bandG,near:nearG,upper:upperG,labels:labelsG,box:boxG,yt:[0,10,20,30],ll:logoLettersG,lh:logoHeightsG,lb:[62,316,1041,996]},
 {id:"H",lx:358,ly:712,tx:498,ty:718,sy:746,title:"SH3BP2 (2)",sub:"CUL3:KLHL15",pts:ptsH,band:bandH,near:nearH,upper:upperH,labels:labelsH,box:boxH,yt:[0,10,20],ll:logoLettersH,lh:logoHeightsH,lb:[365,630,1041,996]},
 {id:"I",lx:658,ly:712,tx:813,ty:718,sy:746,title:"ATP2B2 (34)",sub:"CUL4:DTL",pts:ptsI,band:bandI,near:nearI,upper:upperI,labels:labelsI,box:boxI,yt:[0,5,10,15,20,25],ll:logoLettersI,lh:logoHeightsI,lb:[678,942,1041,996]},
 {id:"J",lx:28,ly:1074,tx:182,ty:1073,sy:1101,title:"ZNF510 (2)",sub:"CUL4:DCAF5",pts:ptsJ,band:bandJ,near:nearJ,upper:upperJ,labels:labelsJ,box:boxJ,yt:[0,10,20,30,40],ll:logoLettersJ,lh:logoHeightsJ,lb:[55,317,1397,1353]},
 {id:"K",lx:357,ly:1074,tx:498,ty:1073,sy:1101,title:"ALAS2 (8)",sub:"CUL4:TRPC4AP",pts:ptsK,band:bandK,near:nearK,upper:upperK,labels:labelsK,box:boxK,yt:[0,10,20],ll:logoLettersK,lh:logoHeightsK,lb:[368,629,1397,1353]},
 {id:"L",lx:661,ly:1074,tx:813,ty:1073,sy:1101,title:"CCDC3 (10)",sub:"CUL4:VPRBP",pts:ptsL,band:bandL,near:nearL,upper:upperL,labels:labelsL,box:boxL,yt:[0,10,20],ll:logoLettersL,lh:logoHeightsL,lb:[681,943,1397,1353]},
 {id:"M",lx:37,ly:1433,tx:182,ty:1427,sy:1455,title:"ZNF19 (8)",sub:"CUL4:AMBRA1",pts:ptsM,band:bandM,near:nearM,upper:upperM,labels:labelsM,box:boxM,yt:[0,5,10,15,20],ll:logoLettersM,lh:logoHeightsM,lb:[53,316,1752,1707]},
 {id:"N",lx:358,ly:1433,tx:498,ty:1427,sy:1455,title:"CCDC17 (9)",sub:"CUL5:ASB7",pts:ptsN,band:bandN,near:nearN,upper:upperN,labels:labelsN,box:boxN,yt:[0,10,20,30],ll:logoLettersN,lh:logoHeightsN,lb:[365,629,1752,1707]},
 {id:"O",lx:657,ly:1433,tx:813,ty:1427,sy:1455,title:"DLST (7)",sub:"CUL5:ASB3",pts:ptsO,band:bandO,near:nearO,upper:upperO,labels:labelsO,box:boxO,yt:[0,10,20]}
];

const W=948,H=1800;
const px=x=>x/W, py=y=>1-y/H;
const hue=x=>`hsl(${Math.min(300,x/1500*300)},100%,50%)`;
const letterColor=c=>{
  if("DE".includes(c))return "#e2203a";
  if("KRH".includes(c))return "#1f5fa8";
  if("STGYC".includes(c))return "#109648";
  if("QN".includes(c))return "#6b2fa0";
  return "#1a1a1a";
};
const kinds={g:{c:"#00b140",b:"#a8e6b8"},a:{c:"#ff7f7f",b:"#ffc4c4"},c:{c:"#6ea4ff",b:"#bcd4ff"}};

const data=[],annotations=[],shapes=[];
const layout={width:W,height:H,margin:{l:0,r:0,t:0,b:0},paper_bgcolor:"#fff",plot_bgcolor:"rgba(0,0,0,0)",showlegend:false,hovermode:false,barmode:"overlay",annotations,shapes};

const txt=(text,x,y,size,family,bold,extra)=>annotations.push(Object.assign({xref:"paper",yref:"paper",x:px(x),y:py(y),xanchor:"center",yanchor:"middle",showarrow:false,
  text:bold?`<b>${text}</b>`:text,font:{family,size,color:"#000"}},extra||{}));
const dots=(xs,ys,s,colors)=>data.push({type:"scatter",mode:"markers",x:xs,y:ys,marker:{size:4.6,color:colors||xs.map(hue)},xaxis:"x"+s,yaxis:"y"+s,hoverinfo:"skip",cliponaxis:false});

panels.forEach((p,i)=>{
  const n=i+1,s=n===1?"":String(n);
  const [l,r,t,b,x0,x1,y0,yv,yp]=p.box;
  const sx=(x1-x0)/1500, sy=(y0-yp)/yv;
  const axisFont={family:"Liberation Sans",size:12.5,color:"#000",weight:700};
  layout["xaxis"+s]={domain:[px(l),px(r)],range:[(l-x0)/sx,(r-x0)/sx],anchor:"y"+s,tickvals:[0,500,1000,1500],ticktext:["0","500","1000","1500"],showline:true,linecolor:"#333",linewidth:1.6,ticks:"outside",ticklen:3,tickwidth:1,tickcolor:"#333",showgrid:false,zeroline:false,fixedrange:true,tickfont:axisFont};
  layout["yaxis"+s]={domain:[py(b),py(t)],range:[(y0-b)/sy,(y0-t)/sy],anchor:"x"+s,tickvals:p.yt,showline:true,linecolor:"#333",linewidth:1.6,ticks:"outside",ticklen:3,tickwidth:1,tickcolor:"#333",showgrid:false,zeroline:false,fixedrange:true,tickfont:axisFont};
  const binC=binX.map(hue);
  data.push({type:"bar",x:binX,y:p.band,width:32,marker:{color:binC,line:{width:0}},xaxis:"x"+s,yaxis:"y"+s,hoverinfo:"skip"});
  dots(binX,p.band,s,binC);
  dots(binX,binX.map(()=>0),s,binC);
  dots(cloudXa,p.near,s);
  dots(cloudXb,p.near.map((_,j)=>p.near[(j+7)%p.near.length]),s);
  dots(cloudXb,p.upper,s);
  dots(p.pts.map(q=>q[0]),p.pts.map(q=>q[1]),s);

  txt(p.id,p.lx,p.ly,25,"Lato",true);
  txt(p.title,p.tx,p.ty,24.5,"Lato",true);
  txt(p.sub,p.tx,p.sy,16,"Lato",false);

  p.labels.forEach(([name,k,cx,cy])=>{
    annotations.push({xref:"paper",yref:"paper",x:px(cx),y:py(cy),xanchor:"center",yanchor:"middle",showarrow:false,text:`<b>\u00a0${name}\u00a0</b>`,
      font:{family:"Liberation Sans",size:15,color:kinds[k].c},bgcolor:"#fff",bordercolor:kinds[k].b,borderwidth:1,borderpad:0.5,height:15});
  });

  if(p.ll){
    const m=n+15,ms=String(m);
    const [a0,a1,base,top]=p.lb;
    const letters=[...p.ll];
    layout["xaxis"+ms]={domain:[px(a0),px(a1)],range:[-0.5,letters.length-0.5],anchor:"y"+ms,visible:false,fixedrange:true};
    layout["yaxis"+ms]={domain:[py(base),py(top)],range:[0,100],anchor:"x"+ms,visible:false,fixedrange:true};
    data.push({type:"scatter",mode:"text",x:letters.map((_,j)=>j),y:p.lh,text:letters,textposition:"middle center",
      textfont:{family:"Liberation Sans",size:20,weight:700,color:letters.map(letterColor)},cliponaxis:false,xaxis:"x"+ms,yaxis:"y"+ms,hoverinfo:"skip"});
  }
});

connectors.forEach(([a,b,c,d])=>shapes.push({type:"line",xref:"paper",yref:"paper",x0:px(a),y0:py(b),x1:px(c),y1:py(d),line:{color:"#aaa",width:0.8}}));

// y axis title
txt("MAGeCK Score",9,160,17,"Liberation Sans",true,{textangle:-90});

// legend
const roundRect=(x0,y0,x1,y1,r)=>`M${px(x0+r)},${py(y0)} L${px(x1-r)},${py(y0)} Q${px(x1)},${py(y0)} ${px(x1)},${py(y0+r)} L${px(x1)},${py(y1-r)} Q${px(x1)},${py(y1)} ${px(x1-r)},${py(y1)} L${px(x0+r)},${py(y1)} Q${px(x0)},${py(y1)} ${px(x0)},${py(y1-r)} L${px(x0)},${py(y0+r)} Q${px(x0)},${py(y0)} ${px(x0+r)},${py(y0)} Z`;
const legendNames=["Adaptor","CUL","Other CRL-degradation factors"];
const legendColors=["#f7a3ad","#a9c9f7","#14b03a"];
const legendBoxX=[126,298,469];
const legendTextX=[176,348,520];
legendNames.forEach((t,i)=>{
  shapes.push({type:"path",xref:"paper",yref:"paper",path:roundRect(legendBoxX[i],1767,legendBoxX[i]+30,1798,5),line:{color:legendColors[i],width:3},fillcolor:"rgba(0,0,0,0)"});
  txt(t,legendTextX[i],1783,25,"Lato",false,{xanchor:"left"});
});

Plotly.newPlot("chart",data,layout,{displayModeBar:false,staticPlot:true}).then(gd=>{
  document.querySelectorAll(".annotation rect.bg").forEach(r=>r.setAttribute("rx",2.5));
  const FS=20,CAP=0.729;
  gd.querySelectorAll(".textpoint text").forEach(t=>{
    const d=t.parentNode.__data__;
    const tr=t.closest(".trace");
    const cd=tr&&tr.__data__;
    if(!d||!cd)return;
    const tc=cd[0].trace;
    const xa=gd._fullLayout["xaxis"+tc.xaxis.slice(1)],ya=gd._fullLayout["yaxis"+tc.yaxis.slice(1)];
    const cell=xa._length/tc.x.length;
    const w=t.getComputedTextLength()||FS*0.7;
    const sx=cell*0.95/w;
    const sy=(d.y/100*ya._length)/(FS*CAP);
    const cx=xa.c2p(d.x),by=ya._length;
    t.setAttribute("x",0);t.setAttribute("y",0);
    t.setAttribute("text-anchor","middle");
    t.setAttribute("transform",`translate(${cx},${by}) scale(${sx},${sy})`);
  });
});
</script>
</body></html>
